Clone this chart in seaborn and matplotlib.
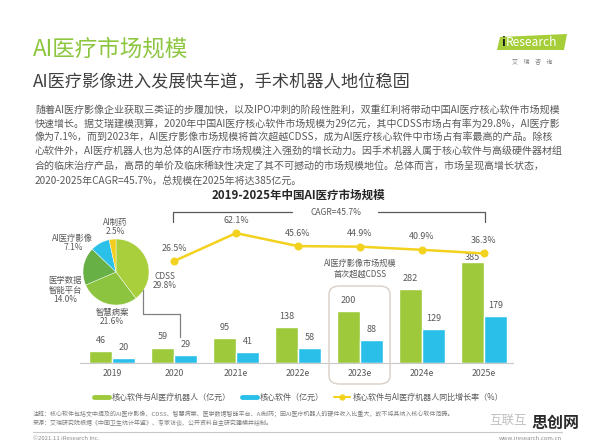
import numpy as np
import pandas as pd
import matplotlib
matplotlib.use("Agg")
import matplotlib.pyplot as plt
from matplotlib.lines import Line2D
from matplotlib.patches import FancyBboxPatch, Polygon
import seaborn as sns

# ---------------- data ----------------
years = ["2019", "2020", "2021e", "2022e", "2023e", "2024e", "2025e"]
total_values = [46, 59, 95, 138, 200, 282, 385]
core_values = [20, 29, 41, 58, 88, 129, 179]
growth_years = ["2020", "2021e", "2022e", "2023e", "2024e", "2025e"]
growth_rates = [26.5, 62.1, 45.6, 44.9, 40.9, 36.3]
pie_labels = ["CDSS", "智慧病案", "医学数据\n智能平台", "AI医疗影像", "AI制药"]
pie_shares = [29.8, 21.6, 14.0, 7.1, 2.5]
series_names = ["核心软件与AI医疗机器人（亿元）", "核心软件（亿元）"]
line_name = "核心软件与AI医疗机器人同比增长率（%）"
cagr_text = "CAGR=45.7%"
highlight_year = "2023e"
highlight_note = "AI医疗影像市场规模\n首次超越CDSS"

title = "AI医疗市场规模"
subtitle = "AI医疗影像进入发展快车道，手术机器人地位稳固"
paragraph = [
    "随着AI医疗影像企业获取三类证的步履加快，以及IPO冲刺的阶段性胜利，双重红利将带动中国AI医疗核心软件市场规模",
    "快速增长。据艾瑞建模测算，2020年中国AI医疗核心软件市场规模为29亿元，其中CDSS市场占有率为29.8%，AI医疗影",
    "像为7.1%，而到2023年，AI医疗影像市场规模将首次超越CDSS，成为AI医疗核心软件中市场占有率最高的产品。除核",
    "心软件外，AI医疗机器人也为总体的AI医疗市场规模注入强劲的增长动力。因手术机器人属于核心软件与高级硬件器材组",
    "合的临床治疗产品，高昂的单价及临床稀缺性决定了其不可撼动的市场规模地位。总体而言，市场呈现高增长状态，",
    "2020-2025年CAGR=45.7%，总规模在2025年将达385亿元。",
]
chart_title = "2019-2025年中国AI医疗市场规模"
note_lines = [
    "注释：核心软件包括文中提及的AI医疗影像、CDSS、智慧病案、医学数据智能平台、AI制药；因AI医疗机器人的硬件收入比重大，故不将其纳入核心软件范畴。",
    "来源：艾瑞研究院根据《中国卫生统计年鉴》、专家访谈、公开资料自主研究建模并绘制。",
]
copyright_text = "©2021.11 iResearch Inc."
site_text = "www.iresearch.com.cn"

# ---------------- style ----------------
sns.set_style("white")
plt.rcParams['font.family'] = ['Noto Sans CJK SC', 'DejaVu Sans']

GREEN = "#9dc93b"
BLUE = "#29bfe8"
YELLOW = "#f2d21e"
TXT = "#595959"
TITLE_GREEN = "#8cc63e"
pie_colors = ["#a9cf3d", "#8dc43f", "#66b045", "#2bc0e8", "#f4cd1c"]

W, H = 596, 446
fig = plt.figure(figsize=(W / 100, H / 100), dpi=100)
fig.patch.set_facecolor("white")


def fx(x):
    return x / W


def fy(y):
    return 1 - y / H


# ---------------- header ----------------
fig.text(fx(33), fy(49), title, fontsize=16.2, color=TITLE_GREEN, va="center", ha="left")
fig.text(fx(33), fy(82), subtitle, fontsize=12.4, color="#404040", va="center", ha="left")

# logo
logo = Polygon([(fx(500), fy(37)), (fx(567), fy(34)), (fx(564), fy(50)), (fx(497), fy(50))],
               closed=True, transform=fig.transFigure, facecolor="#a6ce39", edgecolor="none")
fig.patches.append(logo)
fig.text(fx(501), fy(43), "i", fontsize=9, color="#1a1a1a", va="center", ha="left", fontweight="bold")
fig.text(fx(506), fy(43), "Research", fontsize=8.6, color="white", va="center", ha="left")
fig.text(fx(532), fy(62), "艾    瑞    咨    询", fontsize=4.3, color="#7f7f7f", va="center", ha="center")

para_y = [110, 124, 138, 152, 167, 181]
for line, y in zip(paragraph, para_y):
    fig.text(fx(35), fy(y), line, fontsize=7.2, color=TXT, va="center", ha="left")

fig.text(fx(298), fy(195), chart_title, fontsize=8.3, color="#262626", va="center", ha="center",
         fontweight="bold")

# ---------------- bars ----------------
ax = fig.add_axes([fx(80), fy(363), (513 - 80) / W, (363 - 200) / H])
df = pd.DataFrame({
    "year": years * 2,
    "value": total_values + core_values,
    "series": [series_names[0]] * len(years) + [series_names[1]] * len(years),
})
sns.barplot(data=df, x="year", y="value", hue="series", order=years, hue_order=series_names,
            palette=[GREEN, BLUE], width=0.74, gap=0, saturation=1, legend=False, ax=ax)
ax.set_xlim(-0.516, 6.468)
ax.set_ylim(0, 163 / 0.262)
ax.set_xlabel("")
ax.set_ylabel("")
ax.set_yticks([])
ax.tick_params(axis="x", length=0, pad=4.5, labelsize=6.3, labelcolor=TXT)
for s in ["top", "right", "left"]:
    ax.spines[s].set_visible(False)
ax.spines["bottom"].set_color("#c8c8c8")
ax.spines["bottom"].set_linewidth(0.8)
ax.patch.set_visible(False)

label_pad = {(0, 6): 3.6}  # (series index, year index) -> offset in points
for si, cont in enumerate(ax.containers):
    for yi, bar in enumerate(cont):
        v = bar.get_height()
        off = label_pad.get((si, yi), 7.6)
        ax.annotate(f"{v:.0f}", (bar.get_x() + bar.get_width() / 2, v), xytext=(0, off),
                    textcoords="offset points", ha="center", va="center", fontsize=6.5, color=TXT)

# ---------------- growth line ----------------
ax2 = ax.twinx()
gx = [years.index(y) for y in growth_years]
sns.lineplot(x=gx, y=growth_rates, ax=ax2, color=YELLOW, lw=1.8, marker="o", markersize=5,
             markeredgecolor=YELLOW, legend=False)
ax2.set_ylim(-(363 - 282) / 0.787, (282 - 200) / 0.787)
ax2.set_xlim(-0.516, 6.468)
ax2.set_yticks([])
ax2.set_ylabel("")
for s in ["top", "right", "left", "bottom"]:
    ax2.spines[s].set_visible(False)
for x, v in zip(gx, growth_rates):
    ax2.annotate(f"{v}%", (x, v), xytext=(0, 9.4), textcoords="offset points",
                 ha="center", va="center", fontsize=6.4, color=TXT)

# CAGR bracket
bracket_col = "#595959"
fig.lines.append(Line2D([fx(173), fx(173), fx(292)], [fy(222), fy(212), fy(212)],
                        transform=fig.transFigure, color=bracket_col, lw=0.9))
fig.lines.append(Line2D([fx(378), fx(485), fx(485)], [fy(212), fy(212), fy(222)],
                        transform=fig.transFigure, color=bracket_col, lw=0.9))
fig.text(fx(336), fy(212), cagr_text, fontsize=6.1, color=TXT, ha="center", va="center")

# highlight box for 2023e
hb = FancyBboxPatch((fx(329), fy(384)), (390 - 329) / W, (384 - 286) / H,
                    boxstyle="round,pad=0,rounding_size=0.018", transform=fig.transFigure,
                    facecolor="none", edgecolor="#d9cfc6", lw=1.0)
fig.patches.append(hb)
fig.text(fx(360), fy(269), highlight_note, fontsize=5.9, color=TXT, ha="center", va="center",
         linespacing=1.25)

# ---------------- pie ----------------
pax = fig.add_axes([fx(116 - 33), fy(272 + 33), 66 / W, 66 / H])
pax.pie(pie_shares, colors=pie_colors, startangle=90, counterclock=False,
        wedgeprops=dict(edgecolor="white", linewidth=0.3))
pax.set_xlim(-1, 1)
pax.set_ylim(-1, 1)
pax.set_aspect("equal")

pie_text_pos = [(165, 281), (112, 317), (65, 290), (73, 243), (115, 227)]
for lab, val, (px, py) in zip(pie_labels, pie_shares, pie_text_pos):
    fig.text(fx(px), fy(py), f"{lab}\n{val:.1f}%", fontsize=6, color=TXT, ha="center",
             va="center", linespacing=1.1)

# connector from pie to 2020 bars
fig.lines.append(Line2D([fx(143), fx(143), fx(180), fx(180)], [fy(290), fy(314), fy(314), fy(337)],
                        transform=fig.transFigure, color="#808080", lw=0.9))

# ---------------- legend ----------------
handles = [Line2D([0], [0], color=GREEN, lw=3.5),
           Line2D([0], [0], color=BLUE, lw=3.5),
           Line2D([0], [0], color=YELLOW, lw=1.5, marker="o", markersize=3.5)]
fig.legend(handles, series_names + [line_name], loc="center", bbox_to_anchor=(fx(298.5), fy(397)),
           ncol=3, frameon=False, fontsize=5.8, labelcolor=TXT, handlelength=1.9,
           handletextpad=0.35, columnspacing=1.3, borderaxespad=0, borderpad=0)

# ---------------- footer ----------------
fig.text(fx(33), fy(414), note_lines[0], fontsize=4.3, color="#7f7f7f", ha="left", va="center")
fig.text(fx(33), fy(423), note_lines[1], fontsize=4.3, color="#7f7f7f", ha="left", va="center")
fig.lines.append(Line2D([fx(33), fx(562)], [fy(432), fy(432)], transform=fig.transFigure,
                        color="#c8c8c8", lw=0.8))
fig.text(fx(33), fy(438), copyright_text, fontsize=4.3, color="#8c8c8c", ha="left", va="center")
fig.text(fx(562), fy(438), site_text, fontsize=4.3, color="#8c8c8c", ha="right", va="center")

# watermark
fig.text(fx(508), fy(420), "互联互", fontsize=9, color="#b0b0b0", ha="center", va="center", alpha=0.8)
fig.text(fx(555), fy(423), "思创网", fontsize=11.5, color="#2b2b2b", ha="center", va="center",
         fontweight="bold")

fig.savefig("out.png", dpi=100, facecolor="white")
